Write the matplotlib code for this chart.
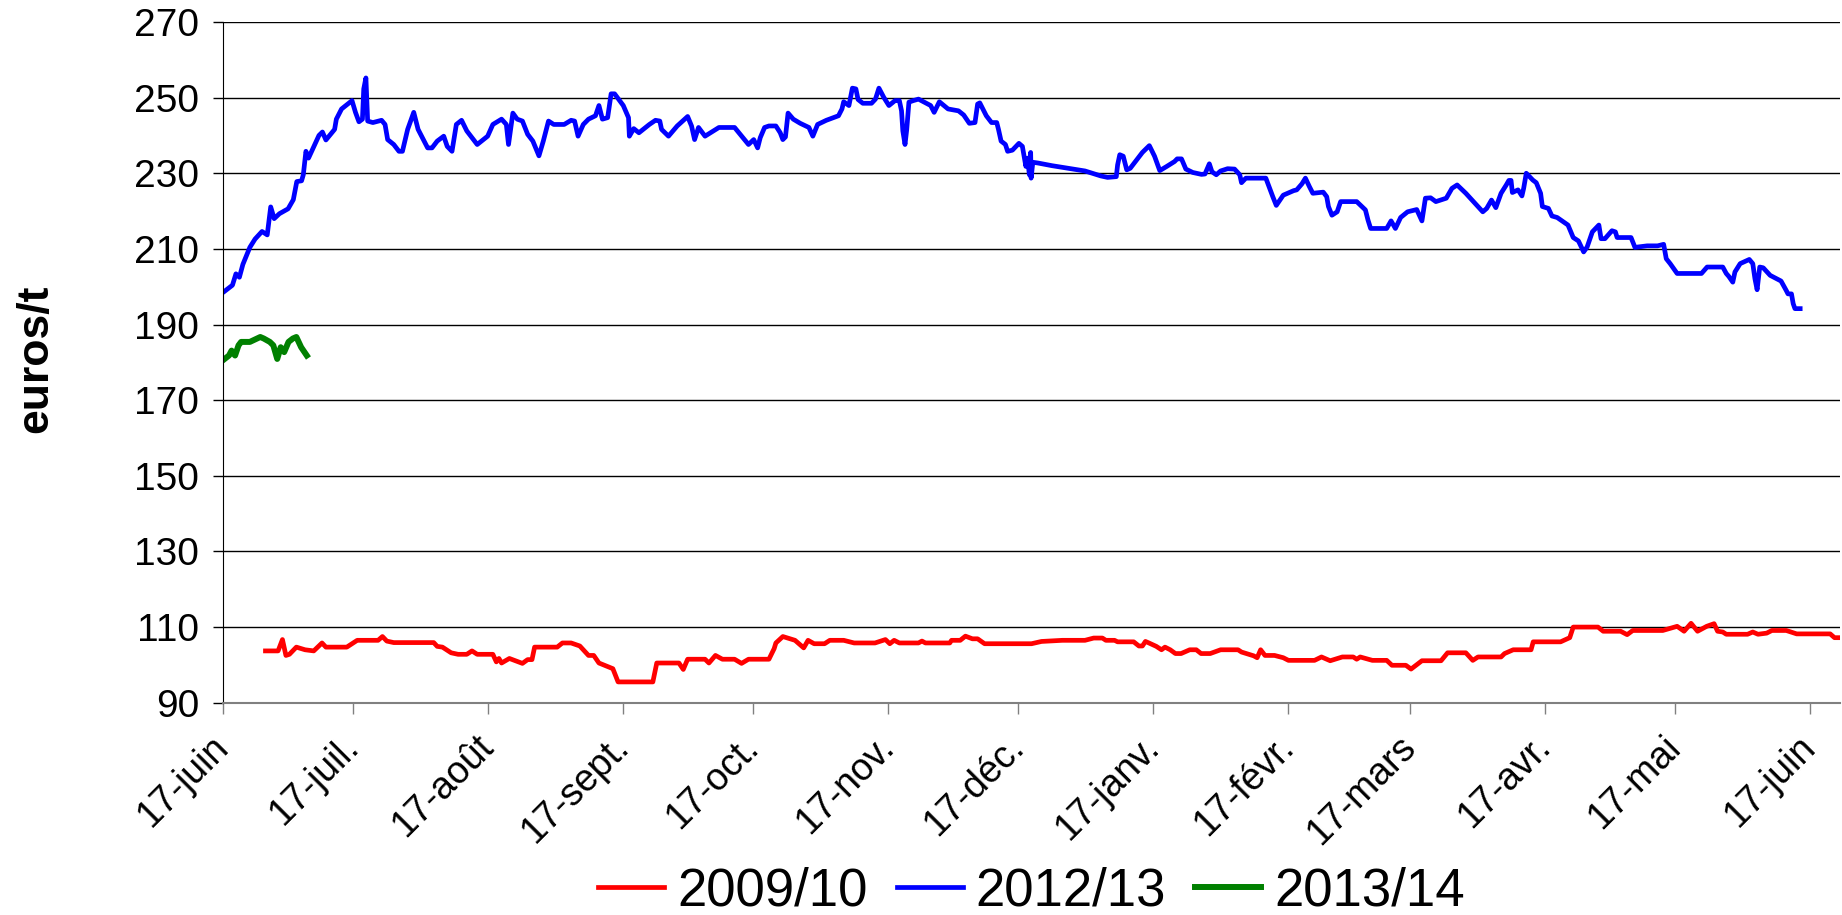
import datetime as dt
import matplotlib
matplotlib.use("Agg")
import matplotlib.pyplot as plt

# days counted from 17 June
blue_days = [0.4, 2.2, 3, 3.8, 4.6, 6.2, 7.4, 9, 10.2, 11, 11.8, 13, 15, 16.2, 17, 18.1, 18.5, 19.1, 19.7,
             22.1, 22.9, 23.7, 25.7, 26.1, 27.3, 29.7, 30.5, 31.3, 32.1, 32.4, 32.9, 33.3, 34.5, 36.5, 37.3,
             37.9, 39.3, 40.5, 41.3, 42.5, 43.9, 44.9, 46.1, 47.1, 48.1, 49.3, 50.8, 51.6, 52.7, 53.7, 54.9,
             56.1, 58.5, 60.9, 62.1, 64.1, 65.2, 65.7, 66.7, 67.7, 68.9, 70.1, 71.3, 72.7, 73.7, 74.9, 76.1,
             78.5, 80.1, 80.9, 81.7, 82.9, 84.1, 85.7, 86.5, 87.3, 88.5, 89.3, 90.1, 92.1, 93.3, 93.5, 94.5,
             95.7, 98.1, 99.5, 100.5, 100.9, 102.5, 104.5, 106.9, 107.8, 108.5, 109.4, 110.9, 114.1, 117.7,
             120.9, 122.1, 123, 123.6, 124.6, 125.6, 127.2, 128.2, 128.8, 129.4, 130, 131.2, 132.8, 134.8,
             135.7, 136.8, 138.8, 141.6, 142.4, 142.8, 144, 144.8, 145.6, 146.1, 147.2, 149.2, 150.1, 150.9,
             152, 153.2, 154.6, 155.6, 156.1, 156.4, 156.9, 157.3, 157.8, 158.8, 160, 162.8, 163.6, 164.8,
             166.8, 169.2, 170.4, 171.7, 173, 173.6, 174.1, 175.6, 176.8, 178, 178.4, 179, 180, 180.5, 181.6,
             183.1, 183.9, 184.7, 185.1, 185.5, 185.8, 185.9, 186.3, 187.5, 190.7, 198.3, 201.9, 203.5, 205.5,
             205.8, 206.3, 207.1, 207.9, 208.7, 211.5, 213.1, 214.3, 215.5, 217.1, 218.9, 219.5, 220.5, 221.5,
             223.1, 225.1, 225.9, 226.9, 227.5, 228.5, 229.5, 231.1, 232.7, 233.9, 234.3, 235.3, 239.9, 241.5,
             242.3, 243.9, 246.3, 247, 248.2, 249, 249.9, 250.7, 253.1, 253.9, 254.3, 255.1, 256.3, 257.1,
             260.8, 262.8, 263.4, 264, 267.7, 268.7, 269.7, 270.9, 272.5, 274.6, 275.8, 276.6, 277.8, 279,
             281.4, 282.7, 283.9, 285.9, 289.8, 290.7, 291.8, 292.8, 294, 295.2, 295.8, 296.3, 296.6, 297.9,
             298.8, 299.2, 299.8, 301.3, 302.1, 303.1, 303.5, 304.9, 305.7, 306.9, 309.4, 310.6, 311.8, 313,
             313.8, 315, 316.5, 317, 317.9, 319.5, 320.3, 320.7, 323.9, 324.8, 327.6, 330, 331.4, 332, 332.9,
             334.5, 340.1, 341.4, 345, 345.8, 346.4, 347.3, 347.8, 349, 351.1, 351.9, 352.4, 352.9, 353.5,
             354.3, 355.9, 358.4, 359.6, 360, 360.8, 361.2, 361.6, 362.8]
blue_vals = [198.8, 200.4, 203.4, 202.5, 205.9, 210.4, 212.6, 214.6, 213.7, 221.1, 218, 219.3, 220.6, 223,
             227.8, 228, 229.6, 235.8, 234, 240, 240.9, 238.8, 241.6, 244.3, 247, 249.2, 246.1, 243.6, 244.3,
             252.3, 255.2, 243.8, 243.4, 244, 242.9, 238.9, 237.6, 235.8, 235.8, 241.6, 246.1, 241.6, 238.9,
             236.7, 236.7, 238.5, 239.8, 237.1, 235.8, 242.9, 244, 241.2, 237.6, 239.8, 242.9, 244.3, 242.9,
             237.6, 245.9, 244.3, 243.8, 240.3, 238.5, 234.6, 238.5, 243.8, 242.9, 242.9, 244, 243.8, 239.8,
             242.9, 244.3, 245.2, 247.9, 244.3, 244.7, 251, 251, 247.9, 244.7, 239.8, 241.8, 240.7, 242.9, 244,
             243.8, 241.6, 239.8, 242.5, 245, 242.5, 238.9, 242.1, 239.8, 242.1, 242.1, 237.6, 238.9, 236.7,
             239.4, 242.1, 242.5, 242.5, 240.7, 238.9, 239.6, 245.9, 244.3, 243.2, 242.1, 239.8, 242.9, 244,
             245.2, 247, 248.9, 247.9, 252.5, 252.3, 249.5, 248.5, 248.5, 249.6, 252.5, 250.1, 247.9, 249.2,
             249.2, 246.5, 241.2, 237.6, 241.6, 248.8, 249.2, 249.6, 247.9, 246.1, 248.9, 247, 246.5, 245.4,
             243.2, 243.4, 248.3, 248.6, 245.2, 243.4, 243.4, 241.6, 238.5, 237.6, 235.8, 236.1, 237.9, 237.1,
             231.8, 234, 229.6, 235.5, 228.7, 232.9, 232.7, 232, 230.6, 229.3, 228.9, 229.1, 232.2, 234.9,
             234.5, 230.9, 231.3, 235.5, 237.3, 234.5, 230.7, 231.8, 233.1, 233.8, 233.8, 231.1, 230.2, 229.7,
             229.8, 232.5, 230.4, 229.6, 230.6, 231.2, 231.1, 229.6, 227.5, 228.7, 228.7, 223.8, 221.5, 224.2,
             225.4, 225.6, 227.2, 228.7, 226.5, 224.7, 225, 223.8, 221.2, 218.9, 219.8, 222.5, 222.5, 220.3,
             217.6, 215.4, 215.4, 217.4, 215.4, 218.3, 219.8, 220.4, 217.4, 223.4, 223.5, 222.5, 223.4, 226,
             226.9, 224.7, 219.8, 220.7, 222.9, 220.9, 224.7, 226.9, 228.1, 228.1, 224.9, 225.6, 224, 226, 230,
             228.2, 227.5, 224.7, 221.2, 220.7, 218.7, 218.3, 216.3, 213, 212.1, 209.2, 210.5, 214.5, 216.3,
             212.7, 212.7, 214.8, 214.5, 213, 213, 210.4, 210.8, 210.8, 211.2, 207.4, 206.1, 203.5, 203.5,
             205.2, 205.2, 203.5, 202.7, 201.2, 203.9, 206.1, 207.2, 206.1, 202.1, 199.2, 205.2, 205, 203,
             201.5, 199, 198.1, 198.1, 195.5, 194.2, 194.2]

green_days = [0.4, 1.4, 2, 2.8, 3.6, 4.2, 6.2, 8.6, 9.4, 10.8, 11.6, 12.5, 13.3, 14.1, 15.1, 16.1, 16.9, 18, 19.3]
green_vals = [180.9, 181.8, 183.1, 181.8, 184.5, 185.4, 185.4, 186.7, 186.3, 185.4, 184.5, 180.9, 184, 182.7,
              185.4, 186.3, 186.7, 184, 181.8]

red_days = [9.8, 12.7, 13.7, 14.5, 15.3, 16.9, 18.9, 20.9, 22.8, 23.7, 28.5, 30.9, 35.7, 36.7, 37.7, 39.3,
            48.5, 49.3, 50.5, 52.5, 54.1, 56.1, 57.3, 58.5, 62.1, 62.9, 63.5, 64.1, 65.9, 68.9, 70.1, 71.1,
            71.7, 76.9, 78.1, 80.1, 82.1, 84.1, 85.3, 86.5, 89.7, 90.9, 98.9, 99.8, 104.9, 105.9, 106.9,
            110.9, 111.8, 113.3, 114.9, 117.7, 119.3, 120.9, 125.6, 126.8, 127.2, 128.8, 131.6, 133.6, 134.6,
            136, 138.4, 139.6, 142.8, 145.2, 150, 152.4, 153.4, 154.4, 155.6, 160, 160.8, 161.6, 167.2, 167.6,
            169.6, 170.8, 172.4, 173.6, 175.2, 186, 188.3, 193.1, 198.3, 200.3, 202.3, 203.1, 205.1, 205.8,
            209.5, 210.7, 211.5, 212.2, 213, 214.7, 215.9, 216.7, 217.9, 219.1, 220.4, 222.4, 223.9, 225,
            227.1, 229.5, 233.5, 234.3, 237.1, 237.9, 238.7, 239.7, 241.9, 243.9, 245.1, 251.1, 252.7, 254.7,
            257.5, 260, 260.8, 261.6, 264.4, 267.7, 268.9, 272.1, 273.3, 275.8, 280.2, 281.7, 285.9, 287.5,
            288.7, 294, 294.8, 296.8, 300.9, 301.4, 307.7, 309.8, 310.6, 316.3, 317.5, 321.5, 323, 324.3,
            331.2, 334.5, 336.1, 337.7, 339.2, 341.3, 343, 343.8, 345, 345.8, 350.7, 351.9, 353.1, 355.1,
            356.3, 359.6, 362, 369.7, 370.7, 372]
red_vals = [103.7, 103.7, 106.7, 102.5, 102.8, 104.7, 104, 103.7, 105.8, 104.7, 104.7, 106.5, 106.5, 107.5,
            106.3, 105.9, 105.9, 104.9, 104.7, 103.2, 102.8, 102.8, 103.7, 102.8, 102.8, 100.8, 101.7, 100.5,
            101.7, 100.4, 101.4, 101.4, 104.7, 104.7, 105.8, 105.8, 105, 102.5, 102.5, 100.5, 99, 95.5, 95.5,
            100.5, 100.5, 98.8, 101.5, 101.5, 100.5, 102.5, 101.5, 101.5, 100.4, 101.5, 101.5, 104.3, 105.8,
            107.5, 106.5, 104.5, 106.5, 105.6, 105.6, 106.5, 106.5, 105.8, 105.8, 106.7, 105.6, 106.5, 105.8,
            105.8, 106.3, 105.8, 105.8, 106.5, 106.5, 107.6, 106.9, 106.9, 105.6, 105.6, 106.2, 106.5, 106.5,
            107.1, 107.1, 106.5, 106.5, 106.1, 106.1, 105, 105, 106.2, 105.8, 104.9, 104, 104.7, 104, 103,
            103, 104, 104, 103, 103, 104, 104, 103.4, 102.4, 101.9, 104, 102.5, 102.5, 101.9, 101.2, 101.2,
            102.1, 101.1, 102.1, 102.1, 101.5, 102.1, 101.2, 101.2, 99.9, 99.9, 98.9, 101.1, 101.1, 103.2,
            103.2, 101.2, 102.1, 102.1, 103, 104, 104, 106.1, 106.1, 107.2, 110, 110, 108.9, 108.9, 108,
            109.1, 109.1, 110.2, 108.9, 111, 108.9, 110.2, 110.9, 108.9, 108.7, 108.1, 108.1, 108.7, 108.1,
            108.4, 109.1, 109.1, 108.2, 108.2, 107.2, 107.2]

series_names = ["2009/10", "2012/13", "2013/14"]
tick_labels = ["17-juin", "17-juil.", "17-août", "17-sept.", "17-oct.", "17-nov.", "17-déc.",
               "17-janv.", "17-févr.", "17-mars", "17-avr.", "17-mai", "17-juin"]
y_ticks = list(range(90, 271, 20))

start = dt.date(2012, 6, 17)
tick_pos = []
for i in range(13):
    m = 6 + i
    d = dt.date(2012 + (m - 1) // 12, (m - 1) % 12 + 1, 17)
    tick_pos.append((d - start).days)

plt.rcParams['font.family'] = ['Liberation Sans', 'DejaVu Sans']

fig = plt.figure(figsize=(18.42, 9.15), dpi=100)
ax = fig.add_axes([0.121, 0.232, 0.878, 0.744])

ax.plot(red_days, red_vals, color='#ff0000', lw=3.4, label=series_names[0])
ax.plot(blue_days, blue_vals, color='#0000ff', lw=3.4, label=series_names[1])
ax.plot(green_days, green_vals, color='#008000', lw=4.3, label=series_names[2])

ax.set_xlim(0, 372)
ax.set_ylim(90, 270)
ax.set_yticks(y_ticks)
ax.set_xticks(tick_pos)
ax.set_xticklabels(tick_labels, rotation=45, ha='right', va='center', rotation_mode='anchor')
ax.tick_params(axis='y', labelsize=28, direction='out', length=7, width=1, pad=10)
ax.tick_params(axis='x', labelsize=27, direction='out', length=8, width=1, color='#808080', pad=20)

ax.grid(axis='y', color='black', lw=1.0)
ax.set_axisbelow(True)
for s in ['top', 'right']:
    ax.spines[s].set_visible(False)
ax.spines['left'].set_color('black')
ax.spines['bottom'].set_color('#808080')
ax.spines['bottom'].set_linewidth(1.5)

ax.set_ylabel('euros/t', fontsize=32, fontweight='bold')
ax.yaxis.set_label_coords(-0.103, 0.505)

fig.legend(loc='center', bbox_to_anchor=(0.56, 0.026), ncol=3, frameon=False, fontsize=38,
           handlelength=1.25, handletextpad=0.25, columnspacing=0.55)

fig.savefig('out.png', dpi=100)
